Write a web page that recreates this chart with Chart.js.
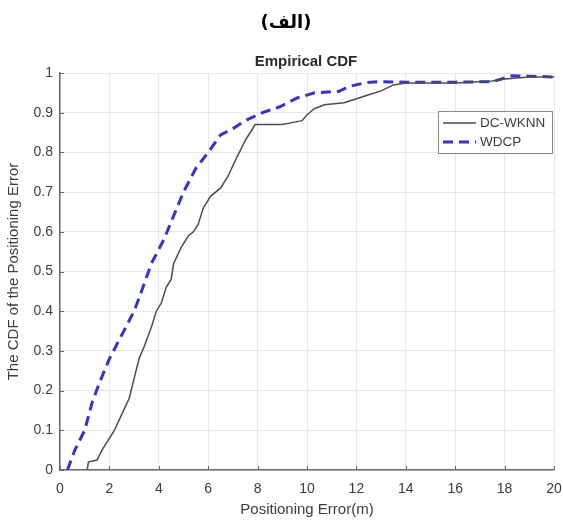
<!DOCTYPE html>
<html>
<head>
<meta charset="utf-8">
<script src="https://cdn.jsdelivr.net/npm/chart.js@4"></script>
<style>
  html, body { margin: 0; padding: 0; background: #ffffff; }
  #wrap { position: relative; width: 563px; height: 522px; }
</style>
</head>
<body>
<div id="wrap"><canvas id="c" width="563" height="522"></canvas></div>
<script>
// ---- data ----
const figureLabel = "(الف)";
const chartTitle = "Empirical CDF";
const xAxisTitle = "Positioning Error(m)";
const yAxisTitle = "The CDF of the Positioning Error";
const seriesNames = ["DC-WKNN", "WDCP"];

const dcwknnX = [1.1, 1.15, 1.5, 1.7, 2.0, 2.2, 2.5, 2.8, 3.0, 3.2, 3.4, 3.7, 3.9, 4.1, 4.3, 4.5, 4.6, 4.9, 5.2, 5.4, 5.6, 5.8, 6.1, 6.5, 6.8, 7.1, 7.5, 7.9, 8.5, 9.0, 9.4, 9.8, 10.0, 10.3, 10.7, 11.5, 12.0, 12.5, 13.0, 13.5, 14.0, 16.0, 17.5, 18.0, 19.0, 20.0];
const dcwknnY = [0, 0.02, 0.025, 0.05, 0.08, 0.10, 0.14, 0.18, 0.23, 0.28, 0.31, 0.36, 0.40, 0.42, 0.46, 0.48, 0.52, 0.56, 0.59, 0.60, 0.62, 0.66, 0.69, 0.71, 0.74, 0.78, 0.83, 0.87, 0.87, 0.87, 0.875, 0.88, 0.895, 0.91, 0.92, 0.925, 0.935, 0.945, 0.955, 0.97, 0.975, 0.975, 0.98, 0.985, 0.99, 0.99];

const wdcpX = [0.3, 0.6, 1.0, 1.3, 1.6, 2.0, 2.5, 3.0, 3.3, 3.7, 4.2, 4.6, 5.0, 5.5, 6.0, 6.5, 7.0, 7.5, 8.2, 8.9, 9.6, 10.3, 11.3, 11.7, 12.4, 12.9, 14.0, 16.0, 17.5, 18.3, 19.0, 20.0];
const wdcpY = [0, 0.05, 0.10, 0.17, 0.22, 0.28, 0.34, 0.40, 0.45, 0.52, 0.58, 0.64, 0.70, 0.76, 0.80, 0.844, 0.86, 0.88, 0.90, 0.915, 0.937, 0.95, 0.954, 0.966, 0.976, 0.978, 0.977, 0.977, 0.978, 0.993, 0.992, 0.99];

const xTicks = [0, 2, 4, 6, 8, 10, 12, 14, 16, 18, 20];
const yTicks = [0, 0.1, 0.2, 0.3, 0.4, 0.5, 0.6, 0.7, 0.8, 0.9, 1];

// ---- styles ----
const FONT = "'Liberation Sans', Arial, sans-serif";
const TEXT = "#3c3c3c";
const seriesColors = ["#4d4d4d", "#3535c8"];

function toPoints(xs, ys) { return xs.map((x, i) => ({ x: x, y: ys[i] })); }

const fixArea = {
  id: 'fixArea',
  afterLayout(chart) {
    // keep the plot box where the reference has it
    const a = chart.chartArea;
    const xs = chart.scales.x;
    const target = 554;
    if (a.right !== target) {
      a.right = target; a.width = a.right - a.left;
      xs.right = target; xs.width = xs.right - xs.left;
      xs.configure && xs.configure();
    }
  }
};

const decor = {
  id: 'decor',
  beforeDraw(chart) {
    const ctx = chart.ctx;
    ctx.save();
    ctx.fillStyle = '#ffffff';
    ctx.fillRect(0, 0, chart.width, chart.height);
    ctx.restore();
  },
  afterDraw(chart) {
    const ctx = chart.ctx;
    const xs = chart.scales.x, ys = chart.scales.y;
    const a = chart.chartArea;
    ctx.save();
    // inward ticks
    ctx.strokeStyle = '#666';
    ctx.lineWidth = 1;
    xTicks.forEach(v => {
      const px = Math.round(xs.getPixelForValue(v)) + 0.5;
      ctx.beginPath(); ctx.moveTo(px, a.bottom); ctx.lineTo(px, a.bottom - 4); ctx.stroke();
    });
    yTicks.forEach(v => {
      const py = Math.round(ys.getPixelForValue(v)) + 0.5;
      ctx.beginPath(); ctx.moveTo(a.left, py); ctx.lineTo(a.left + 4, py); ctx.stroke();
    });
    // figure label (Arabic)
    ctx.fillStyle = '#000';
    ctx.textAlign = 'center';
    ctx.textBaseline = 'middle';
    ctx.font = "bold 18px 'DejaVu Sans', sans-serif";
    ctx.fillText(figureLabel, 286, 23);
    // chart title
    ctx.fillStyle = '#2a2a2a';
    ctx.font = "bold 15px " + FONT;
    ctx.fillText(chartTitle, 306, 62);
    // legend box
    const lx = 438, ly = 111, lw = 114, lh = 42;
    ctx.fillStyle = '#fff';
    ctx.fillRect(lx, ly, lw, lh);
    ctx.strokeStyle = '#8a8a8a';
    ctx.lineWidth = 1;
    ctx.strokeRect(lx + 0.5, ly + 0.5, lw, lh);
    const ds = chart.data.datasets;
    const rows = [123, 142];
    ds.forEach((d, i) => {
      ctx.strokeStyle = d.borderColor;
      ctx.lineWidth = d.borderWidth;
      ctx.setLineDash(d.borderDash || []);
      ctx.beginPath(); ctx.moveTo(443, rows[i]); ctx.lineTo(476, rows[i]); ctx.stroke();
      ctx.setLineDash([]);
      ctx.fillStyle = TEXT;
      ctx.textAlign = 'left';
      ctx.font = "13.5px " + FONT;
      ctx.fillText(d.label, 480, rows[i]);
    });
    ctx.restore();
  }
};

new Chart(document.getElementById('c'), {
  type: 'line',
  data: {
    datasets: [
      { label: seriesNames[0], data: toPoints(dcwknnX, dcwknnY), borderColor: seriesColors[0], borderWidth: 1.5, pointRadius: 0, tension: 0, fill: false },
      { label: seriesNames[1], data: toPoints(wdcpX, wdcpY), borderColor: seriesColors[1], borderWidth: 3, borderDash: [10, 6], pointRadius: 0, tension: 0, fill: false }
    ]
  },
  options: {
    responsive: false,
    animation: false,
    layout: { padding: { top: 73, right: 0, left: 0, bottom: 0 } },
    plugins: { legend: { display: false }, title: { display: false }, tooltip: { enabled: false } },
    scales: {
      x: {
        type: 'linear', min: 0, max: 20,
        afterBuildTicks(s) { s.ticks = xTicks.map(v => ({ value: v })); },
        ticks: { color: TEXT, font: { family: FONT, size: 14 }, padding: 11, maxRotation: 0,
                 callback: v => String(v) },
        grid: { color: '#e8e8e8', lineWidth: 1, tickLength: 0, drawTicks: false },
        border: { display: true, color: '#6a6a6a', width: 1.5 },
        title: { display: true, text: xAxisTitle, color: TEXT, font: { family: FONT, size: 15 }, padding: { top: 2, bottom: 3 } },
        afterFit(s) { s.height = 52; }
      },
      y: {
        type: 'linear', min: 0, max: 1,
        afterBuildTicks(s) { s.ticks = yTicks.map(v => ({ value: v })); },
        ticks: { color: TEXT, font: { family: FONT, size: 14 }, padding: 7,
                 callback: v => String(Math.round(v * 10) / 10) },
        grid: { color: '#e8e8e8', lineWidth: 1, tickLength: 0, drawTicks: false },
        border: { display: true, color: '#6a6a6a', width: 1.5 },
        title: { display: true, text: yAxisTitle, color: TEXT, font: { family: FONT, size: 15 }, padding: { top: 5, bottom: 4 } },
        afterFit(s) { s.width = 60; }
      }
    }
  },
  plugins: [fixArea, decor]
});
</script>
</body>
</html>
